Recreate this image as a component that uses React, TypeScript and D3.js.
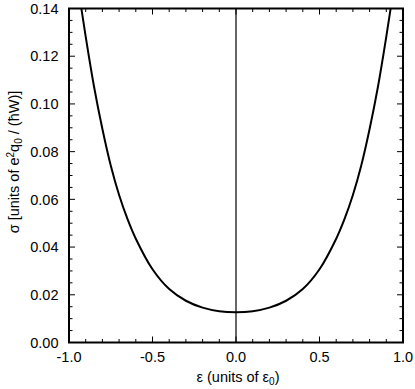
import React from "react";
import { scaleLinear, line, curveCatmullRom, range } from "d3";

// (symmetric U around eps = 0)
const epsilon = [
  -0.95, -0.9, -0.85, -0.8, -0.75, -0.7, -0.65, -0.6, -0.5, -0.4, -0.3, -0.2, -0.1, 0,
  0.1, 0.2, 0.3, 0.4, 0.5, 0.6, 0.65, 0.7, 0.75, 0.8, 0.85, 0.9, 0.95,
];
const sigma = [
  0.1512, 0.1282, 0.1072, 0.0895, 0.0742, 0.0618, 0.0518, 0.0435, 0.0307, 0.0224, 0.0175, 0.0146, 0.0131, 0.0127,
  0.0131, 0.0146, 0.0175, 0.0224, 0.0307, 0.0435, 0.0518, 0.0618, 0.0742, 0.0895, 0.1072, 0.1282, 0.1512,
];
const xTicks = [-1.0, -0.5, 0.0, 0.5, 1.0];
const yTicks = [0, 0.02, 0.04, 0.06, 0.08, 0.1, 0.12, 0.14];

const width = 415;
const height = 389;
const font = "Arial, 'Liberation Sans', Helvetica, sans-serif";

const App = () => {
  const x = scaleLinear().domain([-1, 1]).range([69, 403]);
  const y = scaleLinear().domain([0, 0.14]).range([342.5, 8.5]);
  const pts = epsilon.map((e, i) => [e, sigma[i]] as [number, number]);
  const path = line<[number, number]>()
    .x((d) => x(d[0]))
    .y((d) => y(d[1]))
    .curve(curveCatmullRom.alpha(0.5));

  const xMinor = range(-10, 11).map((i) => i / 10);
  const yMinor = range(0, 29).map((i) => i * 0.005);
  const [x0, x1] = x.range();
  const [y0, y1] = y.range();

  return (
    <svg
      width={width}
      height={height}
      style={{ position: "absolute", left: 0, top: 0, background: "#fff" }}
      fontFamily={font}
    >
      <defs>
        <clipPath id="plot">
          <rect x={x0} y={y1} width={x1 - x0} height={y0 - y1} />
        </clipPath>
      </defs>

      {/* zero line */}
      <line x1={x(0)} x2={x(0)} y1={y0} y2={y1} stroke="#000" strokeWidth={1.2} />

      <path d={path(pts) || ""} fill="none" stroke="#000" strokeWidth={2} clipPath="url(#plot)" />

      {/* ticks, inward on all four sides */}
      {xMinor.map((t, i) => {
        const major = Math.abs(Math.round(t * 10) % 5) === 0;
        const len = major ? 6 : 3.5;
        return (
          <g key={"xt" + i} stroke="#000" strokeWidth={1}>
            <line x1={x(t)} x2={x(t)} y1={y0} y2={y0 - len} />
            <line x1={x(t)} x2={x(t)} y1={y1} y2={y1 + len} />
          </g>
        );
      })}
      {yMinor.map((t, i) => {
        const major = i % 4 === 0;
        const len = major ? 6 : 3.5;
        return (
          <g key={"yt" + i} stroke="#000" strokeWidth={1}>
            <line x1={x0} x2={x0 + len} y1={y(t)} y2={y(t)} />
            <line x1={x1} x2={x1 - len} y1={y(t)} y2={y(t)} />
          </g>
        );
      })}

      <rect x={x0} y={y1} width={x1 - x0} height={y0 - y1} fill="none" stroke="#000" strokeWidth={2} />

      {xTicks.map((t) => (
        <text key={"xl" + t} x={x(t)} y={362} textAnchor="middle" fontSize={14.5}>
          {t.toFixed(1)}
        </text>
      ))}
      {yTicks.map((t) => (
        <text key={"yl" + t} x={58.5} y={y(t) + 5.2} textAnchor="end" fontSize={14.5}>
          {t.toFixed(2)}
        </text>
      ))}

      <text x={238} y={382} textAnchor="middle" fontSize={14.5}>
        ε (units of ε
        <tspan fontSize={10} dy={3}>0</tspan>
        <tspan dy={-3}>)</tspan>
      </text>

      <text transform="translate(19,162) rotate(-90)" textAnchor="middle" fontSize={14.5}>
        σ [units of e<tspan fontSize={10} dy={-5}>2</tspan>
        <tspan dy={5}>q</tspan>
        <tspan fontSize={10} dy={3}>0</tspan>
        <tspan dy={-3}> / (ħW)]</tspan>
      </text>
    </svg>
  );
};

export default App;
